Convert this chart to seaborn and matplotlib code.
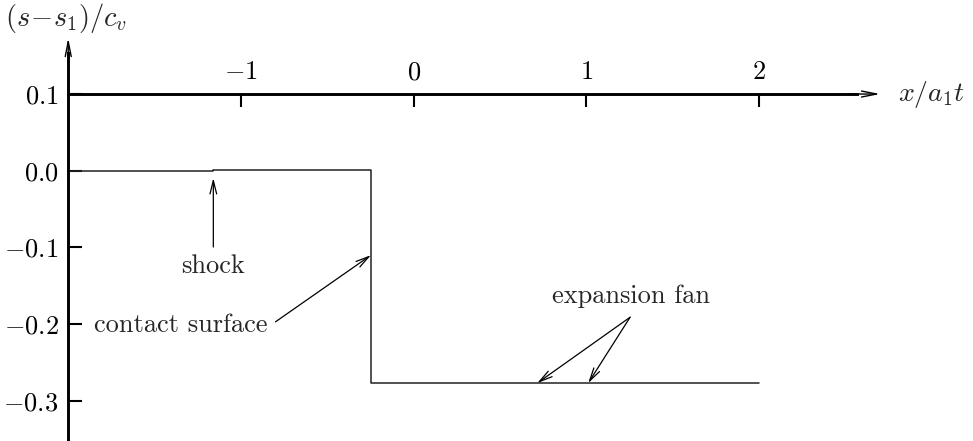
import matplotlib
matplotlib.use("Agg")
import matplotlib.pyplot as plt
import seaborn as sns
import pandas as pd

# Entropy profile across the shock tube at a fixed time
x_pos = [-2.0, -1.16, -1.16, -0.247, -0.247, 2.0]
entropy = [0.0, 0.0, 0.0015, 0.0015, -0.277, -0.277]

x_ticks = [-1, 0, 1, 2]
x_tick_labels = [r"$-1$", r"$0$", r"$1$", r"$2$"]
y_ticks = [0.1, 0.0, -0.1, -0.2, -0.3]
y_tick_labels = [r"$0.1$", r"$0.0$", r"$-0.1$", r"$-0.2$", r"$-0.3$"]

sns.set_theme(style="white")
plt.rcParams["mathtext.fontset"] = "cm"
plt.rcParams["font.family"] = ["cmr10", "DejaVu Serif"]
plt.rcParams["axes.formatter.use_mathtext"] = True

FS = 19

fig = plt.figure(figsize=(9.73, 4.41), dpi=100)
ax = fig.add_axes([0, 0, 1, 1])
ax.set_xlim(-2.395, 3.238)
ax.set_ylim(-0.3524, 0.2226)

df = pd.DataFrame({"x": x_pos, "s": entropy})
sns.lineplot(data=df, x="x", y="s", sort=False, estimator=None,
             color="#222222", linewidth=1.1, ax=ax)

# axes drawn through the origin-style spines
for side in ("right", "bottom"):
    ax.spines[side].set_visible(False)
ax.spines["top"].set_position(("data", 0.1))
ax.spines["top"].set_bounds(-2.0, 2.567)
ax.spines["left"].set_position(("data", -2.0))
ax.spines["left"].set_bounds(-0.36, 0.153)
for side in ("top", "left"):
    ax.spines[side].set_linewidth(2.1)
    ax.spines[side].set_color("black")

ax.xaxis.set_ticks_position("top")
ax.yaxis.set_ticks_position("left")
ax.set_xticks(x_ticks)
ax.set_xticklabels(x_tick_labels, fontsize=FS)
ax.set_yticks(y_ticks)
ax.set_yticklabels(y_tick_labels, fontsize=FS)
ax.tick_params(axis="x", direction="in", length=9.5, width=1.5, pad=7,
               colors="black")
ax.tick_params(axis="y", direction="in", length=10, width=1.5, pad=7,
               colors="black")
ax.set_xlabel("")
ax.set_ylabel("")

# arrow heads on the axes
head = dict(arrowstyle="->, head_length=0.9, head_width=0.18",
            color="black", lw=1.0, shrinkA=0, shrinkB=0)
ax.annotate("", xy=(2.70, 0.1), xytext=(2.50, 0.1), arrowprops=head)
ax.annotate("", xy=(-2.0, 0.173), xytext=(-2.0, 0.14), arrowprops=head)

ax.text(2.805, 0.1, r"$x/a_1t$", fontsize=20, ha="left", va="center")
fig.text(5 / 973, 1 - 18 / 441, r"$(s\!-\!s_1)/c_v$", fontsize=20.5,
         ha="left", va="center")

# labelled features
note = dict(arrowstyle="->, head_length=0.8, head_width=0.2",
            color="black", lw=0.9, shrinkA=0, shrinkB=0)
ax.annotate("", xy=(-1.16, -0.0095), xytext=(-1.16, -0.0995), arrowprops=note)
ax.text(-1.16, -0.1334, "shock", fontsize=FS, ha="center", va="baseline")

ax.annotate("", xy=(-0.247, -0.110), xytext=(-0.80, -0.197), arrowprops=note)
ax.text(-0.848, -0.210, "contact surface", fontsize=FS, ha="right",
        va="baseline")

ax.annotate("", xy=(0.715, -0.277), xytext=(1.253, -0.191), arrowprops=note)
ax.annotate("", xy=(1.01, -0.277), xytext=(1.253, -0.191), arrowprops=note)
ax.text(1.26, -0.1725, "expansion fan", fontsize=FS, ha="center",
        va="baseline")

fig.savefig("out.png", dpi=100)
